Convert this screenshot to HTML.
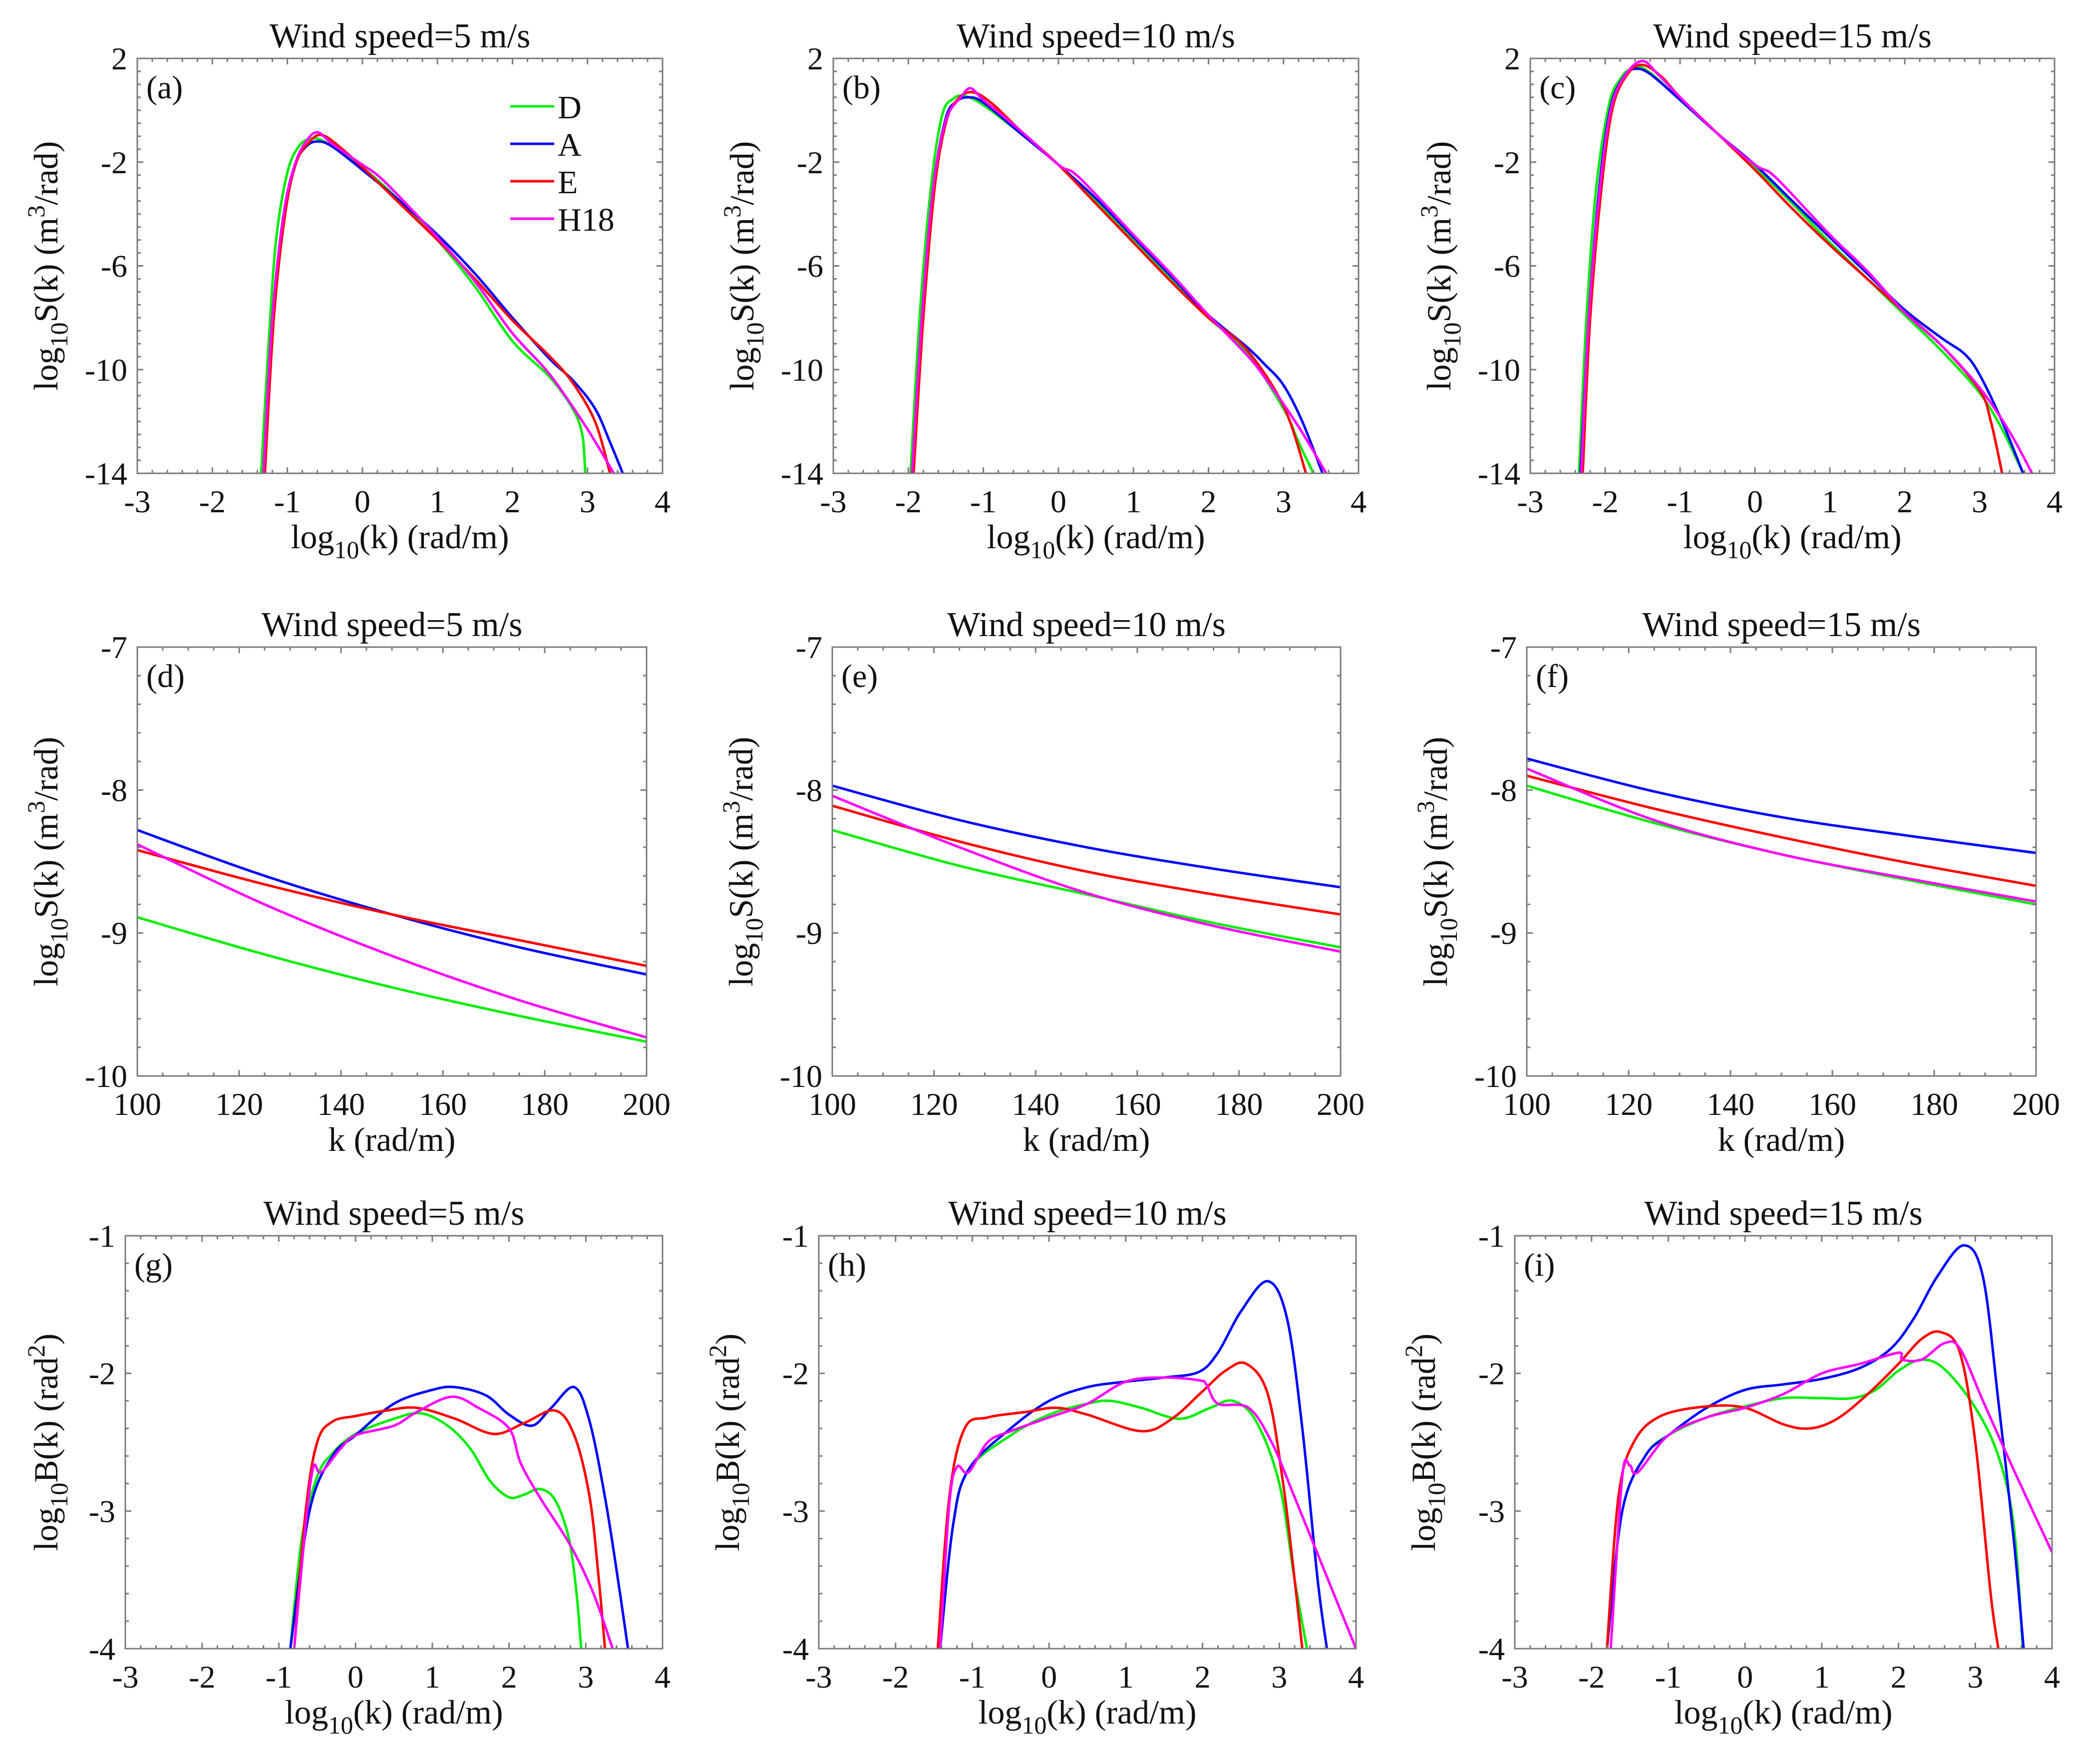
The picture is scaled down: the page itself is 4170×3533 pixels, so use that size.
<!DOCTYPE html>
<html><head><meta charset="utf-8"><style>
html,body{margin:0;padding:0;background:#fff;}
svg{display:block;}
svg text, svg tspan{font-family:"Liberation Serif","DejaVu Serif",serif !important;fill:#111;}
</style></head><body>
<svg id="fig" width="4170" height="3533" viewBox="0 0 4170 3533" xmlns="http://www.w3.org/2000/svg" font-family="Liberation Serif, serif"></svg>
<script>
// ---------- data ----------
const seriesNames = ["D","A","E","H18"];
const seriesColors = ["#00ee00","#0000ff","#ff0000","#ff00ff"];
const panelLetters = ["a","b","c","d","e","f","g","h","i"];
const windSpeeds = [5,10,15];
const logKTicks = [-3,-2,-1,0,1,2,3,4];
const sTicksTop = [2,-2,-6,-10,-14];
const kTicks = [100,120,140,160,180,200];
const sTicksMid = [-7,-8,-9,-10];
const bTicks = [-1,-2,-3,-4];
const kGrid = [100,125,150,175,200];

// Row 1: log10 S(k) vs log10 k ([x,y] pairs)
const aD = [[-1.35,-14],[-1.25,-9],[-1.15,-5],[-1.0,-2.4],[-0.85,-1.4],[-0.7,-1.1],[-0.55,-1.15],[-0.35,-1.5],[0,-2.2],[0.5,-3.5],[1,-5],[1.5,-6.8],[2,-8.9],[2.5,-10.3],[2.8,-11.5],[2.93,-12.5],[2.97,-14]];
const aA = [[-1.32,-14],[-1.2,-8],[-1.05,-4],[-0.9,-2.1],[-0.75,-1.4],[-0.6,-1.2],[-0.4,-1.4],[0,-2.3],[0.5,-3.5],[1,-4.8],[1.5,-6.3],[2,-8],[2.5,-9.6],[2.8,-10.4],[3.1,-11.5],[3.3,-12.8],[3.47,-14]];
const aE = [[-1.3,-14],[-1.18,-8],[-1.03,-4],[-0.88,-2.0],[-0.7,-1.2],[-0.55,-0.95],[-0.35,-1.3],[0,-2.2],[0.5,-3.6],[1,-5],[1.5,-6.5],[2,-8.1],[2.5,-9.5],[2.8,-10.5],[3.1,-12],[3.3,-14]];
const aH = [[-1.32,-14],[-1.2,-8],[-1.05,-4],[-0.9,-2.1],[-0.75,-1.2],[-0.6,-0.85],[-0.4,-1.3],[0,-2.1],[0.2,-2.5],[0.45,-3.2],[1,-4.9],[1.5,-6.6],[2,-8.6],[2.5,-10.2],[3,-12.3],[3.35,-14]];
const bD = [[-1.97,-14],[-1.85,-8],[-1.7,-3],[-1.55,-0.2],[-1.4,0.45],[-1.25,0.55],[-1.0,0.2],[-0.5,-0.9],[0,-2.1],[0.5,-3.5],[1,-5],[1.5,-6.5],[2,-8],[2.5,-9.3],[3,-11.5],[3.2,-12.8],[3.4,-14]];
const bA = [[-1.95,-14],[-1.82,-8],[-1.67,-3],[-1.5,-0.3],[-1.35,0.35],[-1.2,0.5],[-1.0,0.3],[-0.5,-0.9],[0,-2.1],[0.5,-3.4],[1,-4.9],[1.5,-6.4],[2,-7.9],[2.5,-9.1],[2.75,-9.8],[3,-10.6],[3.25,-12],[3.52,-14]];
const bE = [[-1.93,-14],[-1.8,-8],[-1.65,-3],[-1.5,-0.5],[-1.35,0.4],[-1.15,0.7],[-0.9,0.3],[-0.5,-0.8],[0,-2.1],[0.5,-3.6],[1,-5.1],[1.5,-6.6],[2,-8],[2.5,-9.2],[3,-11.4],[3.3,-14]];
const bH = [[-1.95,-14],[-1.82,-8],[-1.67,-3],[-1.5,-0.4],[-1.3,0.5],[-1.17,0.85],[-1.0,0.4],[-0.5,-0.8],[0,-2.1],[0.2,-2.4],[0.45,-3.1],[1,-4.8],[1.5,-6.3],[2,-7.9],[2.5,-9.4],[2.75,-10.3],[3.2,-12.2],[3.57,-14]];
const cD = [[-2.35,-14],[-2.25,-8],[-2.12,-3],[-1.95,0.2],[-1.8,1.2],[-1.65,1.6],[-1.45,1.55],[-1,0.4],[-0.5,-0.9],[0,-2.2],[0.5,-3.6],[1,-5.1],[1.5,-6.5],[2,-7.9],[2.5,-9.3],[3,-10.9],[3.3,-12.3],[3.58,-14]];
const cA = [[-2.33,-14],[-2.22,-8],[-2.08,-3],[-1.93,0.1],[-1.75,1.3],[-1.6,1.6],[-1.4,1.4],[-1,0.4],[-0.5,-0.9],[0,-2.1],[0.5,-3.5],[1,-4.9],[1.5,-6.3],[2,-7.7],[2.5,-8.8],[2.8,-9.4],[3,-10.2],[3.3,-12],[3.58,-14]];
const cE = [[-2.3,-14],[-2.2,-8],[-2.05,-3],[-1.9,0.1],[-1.7,1.4],[-1.5,1.75],[-1.25,1.3],[-1,0.5],[-0.5,-0.9],[0,-2.3],[0.5,-3.8],[1,-5.2],[1.5,-6.5],[2,-7.8],[2.5,-9.1],[3,-10.8],[3.15,-12],[3.3,-14]];
const cH = [[-2.32,-14],[-2.22,-8],[-2.07,-3],[-1.92,0.1],[-1.72,1.4],[-1.5,1.9],[-1.3,1.4],[-1,0.5],[-0.5,-0.9],[0,-2.1],[0.2,-2.4],[0.45,-3.1],[1,-4.8],[1.5,-6.2],[2,-7.8],[2.5,-9.1],[3,-10.7],[3.4,-12.4],[3.7,-14]];

// Row 2: log10 S(k) vs k at kGrid
const dD = [-8.89,-9.15,-9.38,-9.58,-9.76];
const dA = [-8.28,-8.60,-8.87,-9.10,-9.29];
const dE = [-8.42,-8.66,-8.87,-9.05,-9.23];
const dH = [-8.38,-8.80,-9.16,-9.47,-9.73];
const eD = [-8.28,-8.53,-8.73,-8.93,-9.10];
const eA = [-7.97,-8.21,-8.40,-8.55,-8.68];
const eE = [-8.11,-8.36,-8.57,-8.73,-8.87];
const eH = [-8.04,-8.40,-8.72,-8.95,-9.13];
const fD = [-7.97,-8.23,-8.45,-8.63,-8.80];
const fA = [-7.78,-8.01,-8.19,-8.32,-8.44];
const fE = [-7.90,-8.13,-8.33,-8.51,-8.67];
const fH = [-7.85,-8.21,-8.45,-8.62,-8.78];

// Row 3: log10 B(k) vs log10 k
const gD = [[-0.85,-4],[-0.7,-3.2],[-0.5,-2.75],[-0.3,-2.58],[0,-2.44],[0.5,-2.33],[0.85,-2.29],[1.2,-2.38],[1.5,-2.55],[1.75,-2.78],[2,-2.9],[2.2,-2.88],[2.4,-2.84],[2.6,-2.92],[2.78,-3.2],[2.88,-3.6],[2.94,-4]];
const gA = [[-0.85,-4],[-0.6,-3.0],[-0.3,-2.6],[0,-2.45],[0.5,-2.22],[1,-2.12],[1.3,-2.1],[1.7,-2.16],[2,-2.3],[2.3,-2.38],[2.55,-2.25],[2.85,-2.1],[3.05,-2.35],[3.25,-2.9],[3.42,-3.5],[3.55,-4]];
const gE = [[-0.8,-4],[-0.65,-3.0],[-0.5,-2.5],[-0.3,-2.35],[0,-2.31],[0.4,-2.27],[0.8,-2.25],[1.3,-2.33],[1.8,-2.44],[2.2,-2.36],[2.6,-2.27],[2.85,-2.45],[3.05,-2.9],[3.17,-3.5],[3.25,-4]];
const gH = [[-0.8,-4],[-0.65,-3.1],[-0.55,-2.68],[-0.45,-2.72],[-0.2,-2.55],[0,-2.45],[0.5,-2.38],[0.8,-2.28],[1.25,-2.17],[1.6,-2.25],[2,-2.4],[2.15,-2.65],[2.4,-2.9],[2.8,-3.25],[3.1,-3.6],[3.35,-4]];
const hD = [[-1.42,-4],[-1.25,-3.1],[-1.05,-2.7],[-0.5,-2.45],[0,-2.3],[0.5,-2.22],[0.8,-2.2],[1.2,-2.25],[1.7,-2.33],[2.1,-2.25],[2.4,-2.2],[2.7,-2.35],[3,-2.8],[3.2,-3.5],[3.36,-4]];
const hA = [[-1.42,-4],[-1.25,-3.1],[-1.05,-2.7],[-0.5,-2.4],[0,-2.2],[0.5,-2.1],[1,-2.06],[1.5,-2.03],[1.95,-1.99],[2.2,-1.85],[2.5,-1.55],[2.85,-1.33],[3.1,-1.6],[3.3,-2.4],[3.5,-3.5],[3.62,-4]];
const hE = [[-1.45,-4],[-1.3,-2.9],[-1.1,-2.4],[-0.8,-2.32],[-0.3,-2.28],[0.1,-2.25],[0.5,-2.3],[1.2,-2.42],[1.6,-2.33],[2,-2.13],[2.3,-1.98],[2.57,-1.93],[2.85,-2.15],[3.05,-2.8],[3.2,-3.5],[3.3,-4]];
const hH = [[-1.42,-4],[-1.3,-2.95],[-1.2,-2.68],[-1.05,-2.72],[-0.8,-2.5],[-0.5,-2.42],[0,-2.32],[0.5,-2.22],[1,-2.06],[1.5,-2.03],[1.95,-2.05],[2.05,-2.08],[2.2,-2.22],[2.6,-2.25],[2.9,-2.5],[3.2,-2.9],[3.6,-3.45],[4,-4]];
const iD = [[-1.8,-4],[-1.6,-3.0],[-1.3,-2.6],[-1,-2.45],[-0.5,-2.32],[0,-2.24],[0.5,-2.18],[1,-2.18],[1.4,-2.18],[1.7,-2.12],[2,-1.98],[2.3,-1.9],[2.6,-1.97],[3,-2.25],[3.3,-2.6],[3.5,-3.1],[3.62,-4]];
const iA = [[-1.8,-4],[-1.6,-3.0],[-1.3,-2.6],[-1,-2.45],[-0.5,-2.25],[0,-2.12],[0.5,-2.08],[1,-2.04],[1.5,-1.96],[1.9,-1.82],[2.2,-1.6],[2.5,-1.3],[2.85,-1.07],[3.1,-1.3],[3.3,-2.2],[3.5,-3.2],[3.63,-4]];
const iE = [[-1.8,-4],[-1.65,-2.9],[-1.45,-2.5],[-1.1,-2.31],[-0.5,-2.24],[0,-2.25],[0.5,-2.37],[0.85,-2.4],[1.2,-2.33],[1.6,-2.15],[2,-1.93],[2.3,-1.75],[2.55,-1.7],[2.8,-1.85],[3.0,-2.5],[3.2,-3.6],[3.3,-4]];
const iH = [[-1.75,-4],[-1.6,-2.75],[-1.5,-2.67],[-1.4,-2.72],[-1,-2.45],[-0.5,-2.32],[0,-2.25],[0.5,-2.15],[1,-2.0],[1.5,-1.93],[2,-1.85],[2.05,-1.9],[2.3,-1.9],[2.6,-1.78],[2.8,-1.82],[3.1,-2.2],[3.5,-2.7],[4,-3.3]];

// ---------- layout ----------
const NS="http://www.w3.org/2000/svg";
const FONT='"Liberation Serif", "DejaVu Serif", serif';
const svg=document.getElementById('fig');
function mk(tag,attrs,parent){const e=document.createElementNS(NS,tag);for(const k in attrs)e.setAttribute(k,attrs[k]);if(tag==='text')e.setAttribute('font-family',FONT);(parent||svg).appendChild(e);return e;}

const panels=[
 {L:275,R:1327,T:117,B:948,x0:-3,x1:4,y0:-14,y1:2,xt:logKTicks,yt:sTicksTop,xm:0.2,ym:0.5,type:'S',series:[aD,aA,aE,aH]},
 {L:1669,R:2721,T:117,B:948,x0:-3,x1:4,y0:-14,y1:2,xt:logKTicks,yt:sTicksTop,xm:0.2,ym:0.5,type:'S',series:[bD,bA,bE,bH]},
 {L:3065,R:4115,T:117,B:948,x0:-3,x1:4,y0:-14,y1:2,xt:logKTicks,yt:sTicksTop,xm:0.2,ym:0.5,type:'S',series:[cD,cA,cE,cH]},
 {L:275,R:1295,T:1296,B:2155,x0:100,x1:200,y0:-10,y1:-7,xt:kTicks,yt:sTicksMid,xm:5,ym:0.2,type:'K',series:[dD,dA,dE,dH]},
 {L:1667,R:2685,T:1296,B:2155,x0:100,x1:200,y0:-10,y1:-7,xt:kTicks,yt:sTicksMid,xm:5,ym:0.2,type:'K',series:[eD,eA,eE,eH]},
 {L:3058,R:4078,T:1296,B:2155,x0:100,x1:200,y0:-10,y1:-7,xt:kTicks,yt:sTicksMid,xm:5,ym:0.2,type:'K',series:[fD,fA,fE,fH]},
 {L:251,R:1327,T:2475,B:3302,x0:-3,x1:4,y0:-4,y1:-1,xt:logKTicks,yt:bTicks,xm:0.2,ym:0.2,type:'B',series:[gD,gA,gE,gH]},
 {L:1640,R:2716,T:2475,B:3302,x0:-3,x1:4,y0:-4,y1:-1,xt:logKTicks,yt:bTicks,xm:0.2,ym:0.2,type:'B',series:[hD,hA,hE,hH]},
 {L:3034,R:4110,T:2475,B:3302,x0:-3,x1:4,y0:-4,y1:-1,xt:logKTicks,yt:bTicks,xm:0.2,ym:0.2,type:'B',series:[iD,iA,iE,iH]}
];

function smoothPath(pts){
  if(pts.length<2)return '';
  let d='M'+pts[0][0].toFixed(1)+','+pts[0][1].toFixed(1);
  for(let i=0;i<pts.length-1;i++){
    const p0=pts[Math.max(0,i-1)],p1=pts[i],p2=pts[i+1],p3=pts[Math.min(pts.length-1,i+2)];
    const c1=[p1[0]+(p2[0]-p0[0])/6,p1[1]+(p2[1]-p0[1])/6];
    const c2=[p2[0]-(p3[0]-p1[0])/6,p2[1]-(p3[1]-p1[1])/6];
    d+=' C'+c1[0].toFixed(1)+','+c1[1].toFixed(1)+' '+c2[0].toFixed(1)+','+c2[1].toFixed(1)+' '+p2[0].toFixed(1)+','+p2[1].toFixed(1);
  }
  return d;
}

panels.forEach((p,pi)=>{
  const g=mk('g',{});
  
  
  const sx=v=>p.L+(v-p.x0)/(p.x1-p.x0)*(p.R-p.L);
  const sy=v=>p.B-(v-p.y0)/(p.y1-p.y0)*(p.B-p.T);
  const cid='clip'+pi;
  const cp=mk('clipPath',{id:cid},g);mk('rect',{x:p.L,y:p.T-2,width:p.R-p.L,height:p.B-p.T+4},cp);

  const t=mk('text',{x:(p.L+p.R)/2,y:p.T-22,'font-size':70,'text-anchor':'middle'},g);
  t.textContent='Wind speed='+windSpeeds[pi%3]+' m/s';
  
  

  p.series.forEach((s,si)=>{
    let pts;
    if(p.type==='K'){pts=s.map((v,j)=>[sx(kGrid[j]),sy(v)]);}
    else {pts=s.map(q=>[sx(q[0]),sy(q[1])]);}
    const path=mk('path',{d:smoothPath(pts),fill:'none',stroke:seriesColors[si],'stroke-width':5,'clip-path':'url(#'+cid+')','stroke-linejoin':'round'},g);
    
    
  });

  const fr=mk('rect',{x:p.L,y:p.T,width:p.R-p.L,height:p.B-p.T,fill:'none',stroke:'#7a7a7a','stroke-width':3},g);
  
  

  let tk='';
  const eps=1e-6;
  for(let v=p.x0;v<=p.x1+eps;v+=p.xm){const X=sx(v);tk+=`M${X},${p.B}v-7M${X},${p.T}v7`;}
  for(let v=p.y0;v<=p.y1+eps;v+=p.ym){const Y=sy(v);tk+=`M${p.L},${Y}h7M${p.R},${Y}h-7`;}
  p.xt.forEach(v=>{const X=sx(v);tk+=`M${X},${p.B}v-12M${X},${p.T}v12`;});
  p.yt.forEach(v=>{const Y=sy(v);tk+=`M${p.L},${Y}h12M${p.R},${Y}h-12`;});
  const tp=mk('path',{d:tk,stroke:'#7a7a7a','stroke-width':3,fill:'none'},g);
  
  

  p.xt.forEach(v=>{const e=mk('text',{x:sx(v),y:p.B+78,'font-size':64,'text-anchor':'middle'},g);e.textContent=String(v);
    
    });
  p.yt.forEach(v=>{const e=mk('text',{x:p.L-20,y:sy(v)+22,'font-size':64,'text-anchor':'end'},g);e.textContent=String(v);
    
    });

  const xl=mk('text',{x:(p.L+p.R)/2,y:p.B+150,'font-size':68,'text-anchor':'middle'},g);
  if(p.type==='K'){xl.textContent='k (rad/m)';}
  else{xl.innerHTML='log<tspan dy="20" font-size="50">10</tspan><tspan dy="-20">(k) (rad/m)</tspan>';}
  
  

  const yc=(p.T+p.B)/2, yx=p.L-(p.type==='B'&&pi%3===0?136:160);
  const yl=mk('text',{x:0,y:0,'font-size':68,'text-anchor':'middle',transform:`translate(${yx},${yc}) rotate(-90)`},g);
  if(p.type==='B'){yl.innerHTML='log<tspan dy="20" font-size="50">10</tspan><tspan dy="-20">B(k) (rad</tspan><tspan dy="-26" font-size="50">2</tspan><tspan dy="26">)</tspan>';}
  else{yl.innerHTML='log<tspan dy="20" font-size="50">10</tspan><tspan dy="-20">S(k) (m</tspan><tspan dy="-26" font-size="50">3</tspan><tspan dy="26">/rad)</tspan>';}
  
  

  const pl=mk('text',{x:p.L+18,y:p.T+80,'font-size':66},g);
  pl.textContent='('+panelLetters[pi]+')';
  
  
});

const lg=mk('g',{});


seriesNames.forEach((n,i)=>{
  const y=213+i*75;
  const ln=mk('line',{x1:1022,x2:1110,y1:y,y2:y,stroke:seriesColors[i],'stroke-width':5},lg);
  
  
  const tx=mk('text',{x:1117,y:y+24,'font-size':66},lg);
  tx.textContent=n;
  
  
});
</script>
</body></html>
